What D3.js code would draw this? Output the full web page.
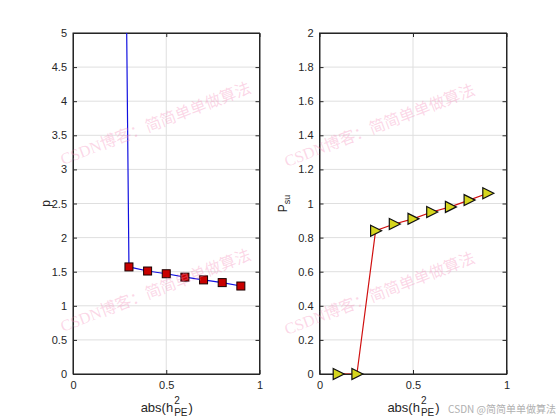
<!DOCTYPE html>
<html><head><meta charset="utf-8">
<script src="https://cdn.jsdelivr.net/npm/d3@7"></script>
<style>body{margin:0;background:#fff}svg{display:block}</style>
</head><body>
<script>
const xs = [0.1, 0.2, 0.3, 0.4, 0.5, 0.6, 0.7, 0.8, 0.9];
const pVals = [60, 30, 1.57, 1.51, 1.47, 1.42, 1.38, 1.34, 1.29];
const psuVals = [0, 0, 0.84, 0.88, 0.91, 0.95, 0.98, 1.02, 1.06];
const xTicks = [0, 0.5, 1];
const pTicks = [0, 0.5, 1, 1.5, 2, 2.5, 3, 3.5, 4, 4.5, 5];
const psuTicks = [0, 0.2, 0.4, 0.6, 0.8, 1, 1.2, 1.4, 1.6, 1.8, 2];
const watermark = "CSDN博客：简简单单做算法";
const footer = "CSDN @简简单单做算法";

const W = 560, H = 420;
const svg = d3.select("body").append("svg").attr("width", W).attr("height", H)
  .style("font-family", "'Liberation Sans', Arial, sans-serif");
svg.append("rect").attr("width", W).attr("height", H).attr("fill", "#fff");

function panel(id, x0, x1, yDomain, yTicks, yFmt, vals, lineColor, markerType, ylabel, ylabelX) {
  const top = 33, bottom = 374;
  const x = d3.scaleLinear().domain([0, 1]).range([x0, x1]);
  const y = d3.scaleLinear().domain(yDomain).range([bottom, top]);
  const g = svg.append("g");
  // grid
  g.append("g").selectAll("line").data(yTicks).join("line")
    .attr("x1", x0).attr("x2", x1).attr("y1", d => y(d)).attr("y2", d => y(d))
    .attr("stroke", "#dfdfdf").attr("stroke-width", 1);
  g.append("g").selectAll("line").data(xTicks).join("line")
    .attr("y1", top).attr("y2", bottom).attr("x1", d => x(d)).attr("x2", d => x(d))
    .attr("stroke", "#dfdfdf").attr("stroke-width", 1);
  // axes box with inward ticks
  const axL = d3.axisLeft(y).tickValues(yTicks).tickFormat(yFmt).tickSizeInner(-4).tickSizeOuter(0).tickPadding(6);
  const axR = d3.axisRight(y).tickValues(yTicks).tickFormat("").tickSizeInner(-4).tickSizeOuter(0);
  const axB = d3.axisBottom(x).tickValues(xTicks).tickFormat(d3.format("")).tickSizeInner(-4).tickSizeOuter(0).tickPadding(7);
  const axT = d3.axisTop(x).tickValues(xTicks).tickFormat("").tickSizeInner(-4).tickSizeOuter(0);
  const style = s => { s.selectAll("path").attr("stroke", "#262626");
    s.selectAll("line").attr("stroke", "#262626");
    s.selectAll("text").attr("fill", "#262626").style("font-size", "11px").style("font-family", "'Liberation Sans', Arial, sans-serif"); };
  g.append("g").attr("transform", `translate(${x0},0)`).call(axL).call(style);
  g.append("g").attr("transform", `translate(${x1},0)`).call(axR).call(style);
  g.append("g").attr("transform", `translate(0,${bottom})`).call(axB).call(style);
  g.append("g").attr("transform", `translate(0,${top})`).call(axT).call(style);
  g.append("rect").attr("x", x0).attr("y", top).attr("width", x1 - x0).attr("height", bottom - top)
    .attr("fill", "none").attr("stroke", "#262626").attr("stroke-width", 1);
  // clip
  svg.append("clipPath").attr("id", id).append("rect")
    .attr("x", x0).attr("y", top).attr("width", x1 - x0).attr("height", bottom - top);
  const data = xs.map((d, i) => [d, vals[i]]);
  const inside = data.filter(d => d[1] >= yDomain[0] && d[1] <= yDomain[1]);
  const cg = g.append("g").attr("clip-path", `url(#${id})`);
  cg.append("path").datum(data)
    .attr("d", d3.line().x(d => x(d[0])).y(d => y(d[1])))
    .attr("fill", "none").attr("stroke", lineColor).attr("stroke-width", 1.2);
  const mg = g.append("g");
  if (markerType === "square") {
    mg.selectAll("rect.m").data(inside).join("rect").attr("class", "m")
      .attr("x", d => x(d[0]) - 4).attr("y", d => y(d[1]) - 4)
      .attr("width", 8).attr("height", 8)
      .attr("fill", "#c80000").attr("stroke", "#1a0000").attr("stroke-width", 1);
  } else {
    mg.selectAll("path.m").data(inside).join("path").attr("class", "m")
      .attr("d", d => { const cx = x(d[0]), cy = y(d[1]);
        return `M${cx-5},${cy-5.5}L${cx+6},${cy}L${cx-5},${cy+5.5}Z`; })
      .attr("fill", "#d6d61e").attr("stroke", "#111").attr("stroke-width", 1.2);
  }
  // y label
  const yl = g.append("text").attr("transform", `translate(${ylabelX},${(top + bottom) / 2}) rotate(-90)`)
    .attr("text-anchor", "middle").attr("fill", "#262626").style("font-size", "12px");
  yl.append("tspan").text(ylabel[0]);
  if (ylabel[1]) yl.append("tspan").attr("dy", 3).style("font-size", "9px").text(ylabel[1]);
  // x label
  const cx = (x0 + x1) / 2, base = 412;
  const xl = g.append("g").attr("fill", "#262626");
  const t1 = xl.append("text").attr("y", base).style("font-size", "13px").text("abs(h");
  const t2 = xl.append("text").attr("y", base - 8).style("font-size", "10px").text("2");
  const t3 = xl.append("text").attr("y", base + 4).style("font-size", "10px").text("PE");
  const t4 = xl.append("text").attr("y", base).style("font-size", "13px").text(")");
  const w1 = t1.node().getComputedTextLength(), w3 = t3.node().getComputedTextLength(),
        w4 = t4.node().getComputedTextLength();
  const total = w1 + w3 + 1 + w4;
  const sx = cx - total / 2;
  t1.attr("x", sx); t2.attr("x", sx + w1 + 1); t3.attr("x", sx + w1 + 1); t4.attr("x", sx + w1 + w3 + 2);
}

panel("c1", 73, 259.5, [0, 5], pTicks, d3.format(""), pVals, "#1010e0", "square", ["p"], 50);
panel("c2", 319.5, 506.5, [0, 2], psuTicks, d3.format(""), psuVals, "#d01010", "triangle", ["P", "su"], 287);

// watermarks
const wm = [[63, 165], [63, 332], [287, 167], [287, 335]];
svg.append("g").selectAll("text").data(wm).join("text")
  .attr("transform", d => `translate(${d[0]},${d[1]}) rotate(-21)`)
  .attr("fill", "rgba(245,140,185,0.35)")
  .style("font-size", "16px").style("font-family", "'Liberation Serif', 'Noto Sans CJK SC', serif")
  .text(watermark);

svg.append("text").attr("x", 556).attr("y", 413).attr("text-anchor", "end")
  .attr("fill", "#b0b0b0").style("font-size", "10px")
  .style("font-family", "'Noto Sans CJK SC', sans-serif").text(footer);
</script>
</body></html>
